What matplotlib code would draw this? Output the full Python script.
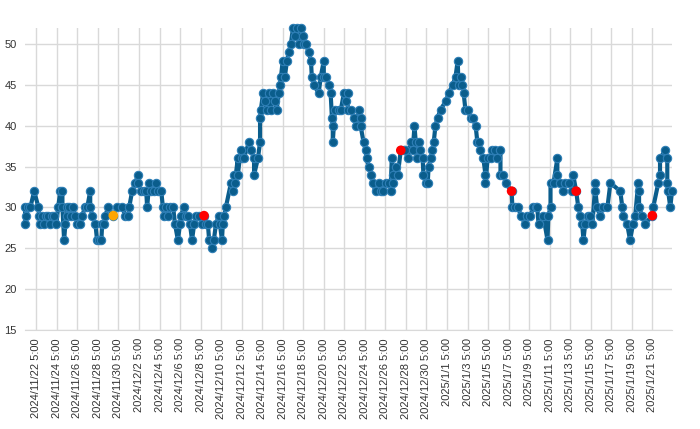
import matplotlib
matplotlib.use("Agg")
import matplotlib.pyplot as plt
import pandas as pd

plt.rcParams["font.family"] = ["Liberation Sans", "DejaVu Sans"]

START = pd.Timestamp("2024-11-22 05:00")

# hours after 2024/11/22 5:00
hours = [
    -26, -26, -23, -19, -14, -5, 5, 7, 9, 14, 19, 23, 28, 33, 37, 42, 47, 51, 56, 61,
    61, 65, 68, 72, 72, 77, 82, 86, 91, 96, 103, 107, 114, 119, 126, 126, 131, 138, 142, 147,
    152, 154, 159, 161, 168, 180, 189, 201, 208, 215, 217,
    224, 231, 238, 238, 245, 252, 257, 259, 264, 268, 275, 280, 285, 292, 296, 299, 303, 308, 313, 320,
    324, 331, 336, 338, 345, 350, 355, 359, 364, 369, 373, 380, 387, 392, 397, 401, 404, 411, 415, 420,
    427, 429, 434, 436, 439, 443, 455, 460, 462, 464, 471, 471, 478, 481, 485, 497, 502, 509, 509, 518,
    523, 523,
    525, 530, 534, 539, 544, 548, 553, 558, 562, 567, 569, 572, 576, 581, 586, 590, 595, 600, 604, 609,
    614, 618, 623, 625, 630, 637, 642, 644, 649, 660, 665, 672, 672, 677, 684, 688, 691, 693, 693, 698,
    707, 712, 719, 723, 728, 728, 735, 742, 747, 754, 758, 758, 765, 770, 772, 777, 782, 786, 793, 800,
    805, 810, 817, 824, 828,
    831, 833, 833, 840, 845, 852, 859, 863, 868, 875, 880, 884, 887, 891, 894, 898, 903, 905, 910, 915,
    917, 922, 926, 929, 933, 938, 945, 957, 964, 973, 980, 985, 987, 992, 996, 999, 1003, 1008, 1015, 1020,
    1027, 1031, 1034, 1038, 1045, 1050, 1050, 1055, 1062, 1066, 1073, 1078, 1085, 1085, 1092, 1097,
    1111, 1113, 1120, 1127, 1132, 1143, 1148, 1155, 1162, 1167, 1171, 1174, 1185, 1195, 1197, 1202, 1202, 1209, 1218, 1218,
    1225, 1232, 1237, 1246, 1253, 1255, 1262, 1267, 1272, 1276, 1279,
    1283, 1290, 1295, 1300, 1307, 1307, 1311, 1318, 1325, 1335, 1342, 1365, 1370, 1372, 1381, 1388, 1395, 1400, 1407, 1409,
    1409, 1416, 1423, 1440, 1442, 1454, 1458, 1458, 1470, 1475, 1475, 1477, 1482, 1486,
]
values = [
    28, 30, 29, 30, 30, 32, 30, 29, 28, 29, 28, 29, 29, 28, 29, 29, 28, 30, 32, 32,
    30, 26, 28, 29, 30, 30, 29, 30, 29, 28, 28, 29, 30, 30, 32, 30, 29, 28, 26, 26,
    26, 28, 28, 29, 30, 29, 30, 30, 29, 29, 30,
    32, 33, 34, 33, 32, 32, 32, 30, 33, 32, 32, 33, 32, 32, 30, 29, 30, 29, 30, 30,
    28, 26, 28, 29, 30, 29, 29, 28, 26, 28, 29, 29, 28, 29, 28, 28, 26, 25, 26, 28,
    29, 28, 26, 28, 29, 30, 33, 32, 34, 33, 36, 34, 37, 36, 36, 38, 37, 36, 34, 36,
    38, 41,
    42, 44, 43, 42, 44, 42, 44, 43, 42, 44, 45, 46, 48, 46, 48, 49, 50, 52, 51, 52,
    50, 52, 51, 50, 50, 49, 48, 46, 45, 44, 46, 48, 46, 46, 45, 44, 41, 40, 38, 42,
    42, 42, 44, 43, 44, 42, 42, 41, 40, 42, 41, 40, 38, 37, 36, 35, 34, 33, 32, 33,
    32, 32, 33, 33, 32,
    36, 34, 33, 35, 34, 37, 37, 37, 36, 38, 37, 40, 38, 36, 38, 37, 36, 34, 33, 33,
    35, 36, 37, 38, 40, 41, 42, 43, 44, 45, 46, 48, 45, 46, 45, 44, 42, 42, 41, 41,
    40, 38, 38, 37, 36, 34, 33, 36, 36, 37, 37, 36, 37, 34, 34, 33,
    32, 30, 30, 30, 29, 28, 29, 29, 30, 30, 30, 28, 29, 26, 29, 30, 33, 33, 36, 34,
    33, 32, 33, 33, 32, 34, 32, 30, 29, 28, 26,
    28, 29, 29, 28, 33, 32, 30, 29, 30, 30, 33, 32, 30, 29, 28, 26, 28, 29, 33, 32,
    30, 29, 28, 29, 30, 33, 34, 36, 37, 36, 33, 32, 30, 32,
]
assert len(hours) == len(values)

# highlighted readings
flag_hours = [180, 392, 852, 1111, 1262, 1440]
flag_values = [29, 29, 37, 32, 32, 29]
flag_colors = ["#ffa500", "#ff0000", "#ff0000", "#ff0000", "#ff0000", "#ff0000"]

tick_times = pd.date_range("2024-11-22 05:00", "2025-01-21 05:00", freq="2D")
tick_labels = [f"{t.year}/{t.month}/{t.day} {t.hour}:{t.minute:02d}" for t in tick_times]
y_ticks = [15, 20, 25, 30, 35, 40, 45, 50]

times = START + pd.to_timedelta(hours, unit="h")
flag_times = START + pd.to_timedelta(flag_hours, unit="h")

fig = plt.figure(figsize=(7, 4.29), dpi=100)
ax = fig.add_axes([0.036, 0.231, 0.924, 0.704])

ax.plot(times, values, color="#0a5d8c", lw=3, marker="o", ms=6,
        mfc="#0a5d8c", mec="#2f7fb6", mew=0.8, zorder=3, clip_on=False)
ax.scatter(flag_times, flag_values, c=flag_colors, s=48, zorder=4,
           edgecolors="none", clip_on=False)

ax.set_xlim(times.min(), times.max())
ax.set_ylim(15, 52)
ax.set_yticks(y_ticks)
ax.set_xticks(tick_times)
ax.set_xticklabels(tick_labels, rotation=90)

ax.grid(True, color="#d9d9d9", lw=1)
ax.set_axisbelow(True)
for side in ["top", "right", "left"]:
    ax.spines[side].set_visible(False)
ax.spines["bottom"].set_color("#d9d9d9")
ax.tick_params(axis="both", length=0, labelsize=8, labelcolor="#333333")
ax.tick_params(axis="y", pad=6)
ax.tick_params(axis="x", pad=6)

fig.savefig("out.png", dpi=100)
